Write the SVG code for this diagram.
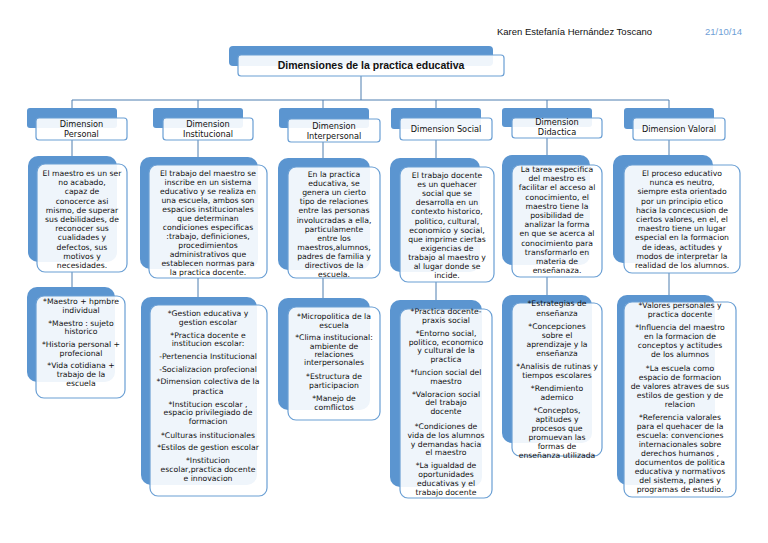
<svg xmlns="http://www.w3.org/2000/svg" width="768" height="543" viewBox="0 0 768 543">
<style>
.bk{fill:#5b95d0}
.fr{fill:#ffffff;fill-opacity:0.9;stroke:#6a9fd4;stroke-width:1.2}
.ln{stroke:#4f7fb0;stroke-width:1;fill:none}
text{font-family:"DejaVu Sans","Liberation Sans",sans-serif;fill:#111111;text-anchor:middle}
.t{font-size:7.7px}
.h{font-size:8.2px}
.ttl{font-size:10.5px;font-weight:bold;font-family:"Liberation Sans",Arial,sans-serif}
</style>
<rect width="768" height="543" fill="#ffffff"/>
<text x="652" y="35" style="font-size:9.5px;text-anchor:end;font-family:'Liberation Sans',Arial,sans-serif">Karen Estefanía Hernández Toscano</text>
<text x="742" y="35" style="font-size:9.5px;text-anchor:end;fill:#6f9fd6;font-family:'Liberation Sans',Arial,sans-serif">21/10/14</text>

<g id="connectors" class="ln">
<path d="M361 76V100M72 100H669M72 100V108M198 100V108M323 100V108M436 100V108M547 100V108M669 100V108"/>
<path d="M72 140V156M198 140V157M323 142V158M436 140V158M547 138V155M669 140V155"/>
<path d="M72 272V287M198 278V297M323 278V298M436 282V300M547 277V295M669 273V295"/>
</g>

<g id="title">
<rect class="bk" x="229" y="46" width="264" height="20" rx="4"/>
<rect class="fr" x="238" y="55" width="266" height="21" rx="3"/>
<text class="ttl" x="371" y="69">Dimensiones de la practica educativa</text>
</g>

<g id="h1"><rect class="bk" x="27" y="108" width="90" height="20" rx="3"/><rect class="fr" x="36" y="118" width="91" height="22" rx="3"/>
<text class="h" x="81.5" y="127">Dimension</text><text class="h" x="81.5" y="137">Personal</text></g>
<g id="h2"><rect class="bk" x="153" y="108" width="90" height="20" rx="3"/><rect class="fr" x="163" y="118" width="90" height="22" rx="3"/>
<text class="h" x="208" y="127">Dimension</text><text class="h" x="208" y="137">Institucional</text></g>
<g id="h3"><rect class="bk" x="279" y="108" width="90" height="20" rx="3"/><rect class="fr" x="288" y="119" width="92" height="23" rx="3"/>
<text class="h" x="334" y="129">Dimension</text><text class="h" x="334" y="139">Interpersonal</text></g>
<g id="h4"><rect class="bk" x="391" y="108" width="90" height="21" rx="3"/><rect class="fr" x="400" y="118" width="92" height="22" rx="3"/>
<text class="h" x="446" y="132">Dimension Social</text></g>
<g id="h5"><rect class="bk" x="502" y="108" width="90" height="19" rx="3"/><rect class="fr" x="512" y="118" width="90" height="20" rx="3"/>
<text class="h" x="557" y="125">Dimension</text><text class="h" x="557" y="135">Didactica</text></g>
<g id="h6"><rect class="bk" x="624" y="108" width="90" height="21" rx="3"/><rect class="fr" x="633" y="118" width="92" height="22" rx="3"/>
<text class="h" x="679" y="132">Dimension Valoral</text></g>

<g id="r1c1"><rect class="bk" x="28" y="156" width="89" height="106" rx="10"/><rect class="fr" x="37" y="164" width="90" height="108" rx="8"/>
<text class="t" x="82" y="176">El maestro es un ser</text><text class="t" x="82" y="185.2">no acabado,</text><text class="t" x="82" y="194.4">capaz de</text><text class="t" x="82" y="203.6">conocerce asi</text><text class="t" x="82" y="212.8">mismo, de superar</text><text class="t" x="82" y="222">sus debilidades, de</text><text class="t" x="82" y="231.2">reconocer sus</text><text class="t" x="82" y="240.4">cualidades y</text><text class="t" x="82" y="249.6">defectos, sus</text><text class="t" x="82" y="258.8">motivos y</text><text class="t" x="82" y="268">necesidades.</text></g>

<g id="r1c2"><rect class="bk" x="140" y="157" width="118" height="112" rx="10"/><rect class="fr" x="149" y="165" width="118" height="113" rx="8"/>
<text class="t" x="208" y="176">El trabajo del maestro se</text><text class="t" x="208" y="185">inscribe en un sistema</text><text class="t" x="208" y="194">educativo y se realiza en</text><text class="t" x="208" y="203">una escuela, ambos son</text><text class="t" x="208" y="212">espacios institucionales</text><text class="t" x="208" y="221">que determinan</text><text class="t" x="208" y="230">condiciones especificas</text><text class="t" x="208" y="239">:trabajo, definiciones,</text><text class="t" x="208" y="248">procedimientos</text><text class="t" x="208" y="257">administrativos que</text><text class="t" x="208" y="266">establecen normas para</text><text class="t" x="208" y="275">la practica docente.</text></g>

<g id="r1c3"><rect class="bk" x="278" y="158" width="92" height="112" rx="10"/><rect class="fr" x="288" y="167" width="92" height="111" rx="8"/>
<text class="t" x="334" y="177">En la practica</text><text class="t" x="334" y="186.1">educativa, se</text><text class="t" x="334" y="195.2">genera un cierto</text><text class="t" x="334" y="204.3">tipo de relaciones</text><text class="t" x="334" y="213.4">entre las personas</text><text class="t" x="334" y="222.5">involucradas a ella,</text><text class="t" x="334" y="231.6">particulamente</text><text class="t" x="334" y="240.7">entre los</text><text class="t" x="334" y="249.8">maestros,alumnos,</text><text class="t" x="334" y="258.9">padres de familia y</text><text class="t" x="334" y="268">directivos de la</text><text class="t" x="334" y="277.1">escuela.</text></g>

<g id="r1c4"><rect class="bk" x="390" y="158" width="90" height="114" rx="10"/><rect class="fr" x="400" y="167" width="94" height="115" rx="8"/>
<text class="t" x="447" y="178">El trabajo docente</text><text class="t" x="447" y="187.1">es un quehacer</text><text class="t" x="447" y="196.2">social que se</text><text class="t" x="447" y="205.3">desarrolla en un</text><text class="t" x="447" y="214.4">contexto historico,</text><text class="t" x="447" y="223.5">politico, cultural,</text><text class="t" x="447" y="232.6">economico y social,</text><text class="t" x="447" y="241.7">que imprime ciertas</text><text class="t" x="447" y="250.8">exigencias de</text><text class="t" x="447" y="259.9">trabajo al maestro y</text><text class="t" x="447" y="269">al lugar donde se</text><text class="t" x="447" y="278.1">incide.</text></g>

<g id="r1c5"><rect class="bk" x="502" y="155" width="88" height="110" rx="10"/><rect class="fr" x="512" y="165" width="90" height="112" rx="8"/>
<text class="t" x="557" y="172">La tarea especifica</text><text class="t" x="557" y="181.2">del maestro es</text><text class="t" x="557" y="190.4">facilitar el acceso al</text><text class="t" x="557" y="199.6">conocimiento, el</text><text class="t" x="557" y="208.8">maestro tiene la</text><text class="t" x="557" y="218">posibilidad de</text><text class="t" x="557" y="227.2">analizar  la forma</text><text class="t" x="557" y="236.4">en que se acerca al</text><text class="t" x="557" y="245.6">conocimiento para</text><text class="t" x="557" y="254.8">transformarlo en</text><text class="t" x="557" y="264">materia de</text><text class="t" x="557" y="273.2">enseñanaza.</text></g>

<g id="r1c6"><rect class="bk" x="613" y="155" width="100" height="108" rx="10"/><rect class="fr" x="624" y="165" width="116" height="108" rx="8"/>
<text class="t" x="682" y="176">El proceso educativo</text><text class="t" x="682" y="185.2">nunca es neutro,</text><text class="t" x="682" y="194.4">siempre esta orientado</text><text class="t" x="682" y="203.6">por un principio etico</text><text class="t" x="682" y="212.8">hacia la concecusion de</text><text class="t" x="682" y="222">ciertos valores, en el, el</text><text class="t" x="682" y="231.2">maestro  tiene un lugar</text><text class="t" x="682" y="240.4">especial en la formacion</text><text class="t" x="682" y="249.6">de ideas, actitudes y</text><text class="t" x="682" y="258.8">modos de interpretar la</text><text class="t" x="682" y="268">realidad de los alumnos.</text></g>

<g id="r2c1"><rect class="bk" x="27" y="287" width="88" height="95" rx="10"/><rect class="fr" x="36" y="296" width="89" height="102" rx="8"/>
<text class="t" x="81" y="304">*Maestro + hpmbre</text><text class="t" x="81" y="313">individual</text><text class="t" x="81" y="326">*Maestro : sujeto</text><text class="t" x="81" y="334">historico</text><text class="t" x="81" y="347">*Historia personal +</text><text class="t" x="81" y="356">profecional</text><text class="t" x="81" y="368">*Vida cotidiana +</text><text class="t" x="81" y="377">trabajo de la</text><text class="t" x="81" y="386">escuela</text></g>

<g id="r2c2"><rect class="bk" x="141" y="297" width="116" height="188" rx="10"/><rect class="fr" x="150" y="305" width="117" height="191" rx="8"/>
<text class="t" x="208" y="316">*Gestion educativa y</text><text class="t" x="208" y="325">gestion escolar</text><text class="t" x="208" y="338">*Practica docente e</text><text class="t" x="208" y="346">institucion escolar:</text><text class="t" x="208" y="359">-Pertenencia Institucional</text><text class="t" x="208" y="372">-Socializacion profecional</text><text class="t" x="208" y="384">*Dimension colectiva de la</text><text class="t" x="208" y="394">practica</text><text class="t" x="208" y="407">*Institucion escolar ,</text><text class="t" x="208" y="415">espacio privilegiado de</text><text class="t" x="208" y="424">formacion</text><text class="t" x="208" y="438">*Culturas institucionales</text><text class="t" x="208" y="450">*Estilos de gestion escolar</text><text class="t" x="208" y="463">*Institucion</text><text class="t" x="208" y="472">escolar,practica docente</text><text class="t" x="208" y="481">e innovacion</text></g>

<g id="r2c3"><rect class="bk" x="278" y="298" width="92" height="112" rx="10"/><rect class="fr" x="288" y="307" width="92" height="113" rx="8"/>
<text class="t" x="334" y="319">*Micropolitica de la</text><text class="t" x="334" y="328">escuela</text><text class="t" x="334" y="340">*Clima institucional:</text><text class="t" x="334" y="349">ambiente de</text><text class="t" x="334" y="357">relaciones</text><text class="t" x="334" y="365">interpersonales</text><text class="t" x="334" y="379">*Estructura de</text><text class="t" x="334" y="388">participacion</text><text class="t" x="334" y="401">*Manejo de</text><text class="t" x="334" y="410">comflictos</text></g>

<g id="r2c4"><rect class="bk" x="390" y="300" width="92" height="187" rx="10"/><rect class="fr" x="400" y="309" width="92" height="189" rx="8"/>
<text class="t" x="446" y="314">*Practica docente-</text><text class="t" x="446" y="323">praxis social</text><text class="t" x="446" y="336">*Entorno social,</text><text class="t" x="446" y="345">politico, economico</text><text class="t" x="446" y="353">y cultural de la</text><text class="t" x="446" y="362">practica</text><text class="t" x="446" y="375">*funcion social del</text><text class="t" x="446" y="384">maestro</text><text class="t" x="446" y="397">*Valoracion social</text><text class="t" x="446" y="405">del trabajo</text><text class="t" x="446" y="414">docente</text><text class="t" x="446" y="429">*Condiciones de</text><text class="t" x="446" y="438">vida de los alumnos</text><text class="t" x="446" y="447">y demandas hacia</text><text class="t" x="446" y="455">el maestro</text><text class="t" x="446" y="468">*La igualdad de</text><text class="t" x="446" y="477">oportunidades</text><text class="t" x="446" y="486">educativas y el</text><text class="t" x="446" y="495">trabajo docente</text></g>

<g id="r2c5"><rect class="bk" x="502" y="295" width="90" height="148" rx="10"/><rect class="fr" x="512" y="303" width="90" height="153" rx="8"/>
<text class="t" x="557" y="306">*Estrategias de</text><text class="t" x="557" y="316">enseñanza</text><text class="t" x="557" y="329">*Concepciones</text><text class="t" x="557" y="338">sobre el</text><text class="t" x="557" y="347">aprendizaje y la</text><text class="t" x="557" y="356">enseñanza</text><text class="t" x="557" y="369">*Analisis de rutinas y</text><text class="t" x="557" y="378">tiempos escolares</text><text class="t" x="557" y="391">*Rendimiento</text><text class="t" x="557" y="400">ademico</text><text class="t" x="557" y="413">*Conceptos,</text><text class="t" x="557" y="422">aptitudes y</text><text class="t" x="557" y="431">procesos que</text><text class="t" x="557" y="440">promuevan las</text><text class="t" x="557" y="449">formas de</text><text class="t" x="557" y="458">enseñanza utilizada</text></g>

<g id="r2c6"><rect class="bk" x="617" y="295" width="98" height="190" rx="10"/><rect class="fr" x="624" y="302" width="112" height="195" rx="8"/>
<text class="t" x="680" y="308">*Valores personales y</text><text class="t" x="680" y="317">practica docente</text><text class="t" x="680" y="330">*Influencia del maestro</text><text class="t" x="680" y="339">en la formacion de</text><text class="t" x="680" y="348">conceptos y actitudes</text><text class="t" x="680" y="357">de los alumnos</text><text class="t" x="680" y="371">*La escuela como</text><text class="t" x="680" y="380">espacio de formacion</text><text class="t" x="680" y="389">de valores atraves de sus</text><text class="t" x="680" y="398">estilos de gestion  y de</text><text class="t" x="680" y="407">relacion</text><text class="t" x="680" y="420">*Referencia valorales</text><text class="t" x="680" y="429">para el quehacer de la</text><text class="t" x="680" y="438">escuela: convenciones</text><text class="t" x="680" y="447">internacionales sobre</text><text class="t" x="680" y="456">derechos humanos ,</text><text class="t" x="680" y="465">documentos de politica</text><text class="t" x="680" y="474">educativa  y normativos</text><text class="t" x="680" y="483">del sistema, planes y</text><text class="t" x="680" y="492">programas de estudio.</text></g>
</svg>
